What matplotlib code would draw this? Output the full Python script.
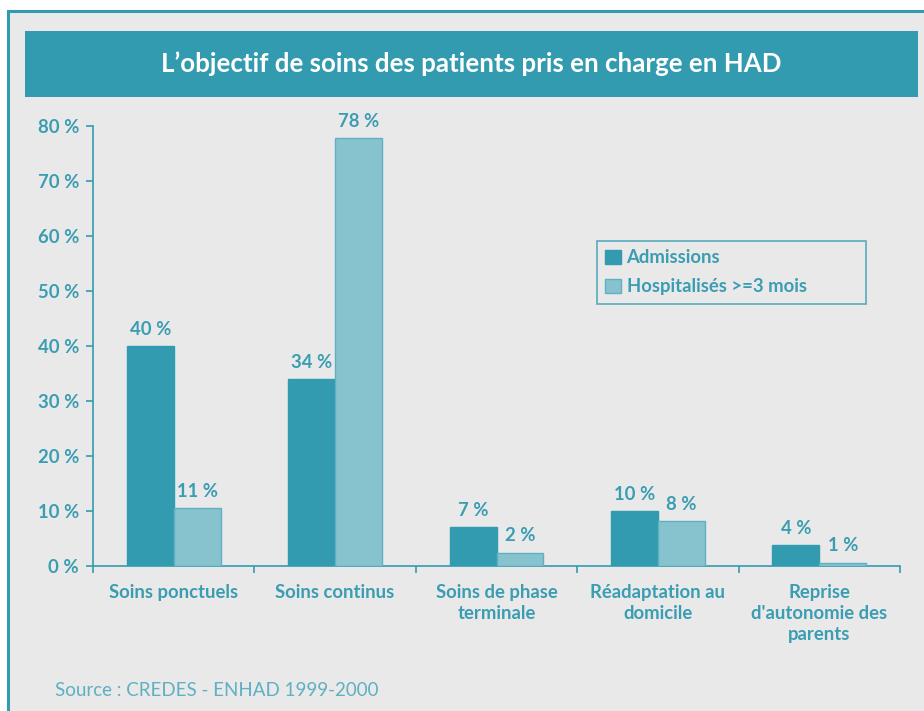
import matplotlib
matplotlib.use("Agg")
import matplotlib.pyplot as plt
from matplotlib.patches import Rectangle
import numpy as np

categories = ["Soins ponctuels", "Soins continus", "Soins de phase\nterminale",
              "Réadaptation au\ndomicile", "Reprise\nd'autonomie des\nparents"]
admissions = [40.0, 34.0, 7.1, 10.0, 3.8]
hospitalises = [10.5, 77.8, 2.4, 8.2, 0.6]
admissions_labels = ["40 %", "34 %", "7 %", "10 %", "4 %"]
hospitalises_labels = ["11 %", "78 %", "2 %", "8 %", "1 %"]
series_names = ["Admissions", "Hospitalisés >=3 mois"]
yticks = [0, 10, 20, 30, 40, 50, 60, 70, 80]
ytick_labels = [f"{v} %" for v in yticks]
title = "L’objectif de soins des patients pris en charge en HAD"
source = "Source : CREDES - ENHAD 1999-2000"

TEAL = "#339bb0"
LIGHT = "#86c3cf"
BG = "#e9e9e9"
TXT = "#3a9db2"
FONT = ["Lato", "DejaVu Sans"]
FS = 13.3

W, H = 924, 711
fig = plt.figure(figsize=(W / 100, H / 100), dpi=100)
fig.patch.set_facecolor("white")

# outer panel
fig.patches.append(Rectangle((8 / W, -0.1), 1.1, 1.1 - 11 / H, transform=fig.transFigure,
                             facecolor=BG, edgecolor=TEAL, linewidth=2.2, zorder=0))
# title band
fig.patches.append(Rectangle((25 / W, 1 - 97 / H), (918 - 25) / W, 66 / H,
                             transform=fig.transFigure, facecolor=TEAL,
                             edgecolor="none", zorder=1))
fig.text((25 + 918) / 2 / W, 1 - 64 / H, title, color="white", fontsize=18.6,
         fontweight="bold", ha="center", va="center", family=FONT)

ax = fig.add_axes([93 / W, 1 - 566 / H, (900 - 93) / W, (566 - 126) / H])
ax.set_zorder(3)
ax.set_facecolor("none")
x = np.arange(len(categories))
bw = 0.29
ax.bar(x - bw / 2, admissions, bw, color=TEAL, edgecolor=TEAL, linewidth=1,
       label=series_names[0], zorder=3)
ax.bar(x + bw / 2, hospitalises, bw, color=LIGHT, edgecolor="#5fb0c2",
       linewidth=1, label=series_names[1], zorder=3)

for xi, v, lab in zip(x - bw / 2, admissions, admissions_labels):
    ax.annotate(lab, (xi, v), xytext=(0, 6), textcoords="offset points",
                ha="center", va="bottom", color=TXT, fontsize=FS,
                fontweight="bold", family=FONT)
for xi, v, lab in zip(x + bw / 2, hospitalises, hospitalises_labels):
    ax.annotate(lab, (xi, v), xytext=(0, 6), textcoords="offset points",
                ha="center", va="bottom", color=TXT, fontsize=FS,
                fontweight="bold", family=FONT)

ax.set_xlim(-0.5, len(categories) - 0.5)
ax.set_ylim(0, 80)
ax.set_yticks(yticks)
ax.set_yticklabels(ytick_labels)
ax.set_xticks(x)
ax.set_xticklabels(categories, linespacing=1.3)
ax.set_xticks(np.arange(-0.5, len(categories)), minor=True)
ax.tick_params(axis="x", which="major", length=0, pad=13)
ax.tick_params(axis="x", which="minor", length=5, color=TEAL, width=1.2,
               direction="out")
ax.tick_params(axis="y", length=5, color=TEAL, width=1.2, direction="out", pad=5)
for lab in ax.get_xticklabels() + ax.get_yticklabels():
    lab.set_color(TXT)
    lab.set_fontsize(FS)
    lab.set_fontweight("bold")
    lab.set_family(FONT)
for s in ["top", "right"]:
    ax.spines[s].set_visible(False)
for s in ["left", "bottom"]:
    ax.spines[s].set_color(TEAL)
    ax.spines[s].set_linewidth(1.2)

lx0 = (597 - 93) / (900 - 93)
lw = (866 - 597) / (900 - 93)
ltop = (566 - 241) / 440
lh = 61 / 440
leg = ax.legend(loc="upper left", bbox_to_anchor=(lx0, ltop - lh, lw, lh),
                mode="expand",
                frameon=True, fancybox=False, facecolor=BG, edgecolor=TEAL,
                handlelength=0.85, handleheight=0.85, handletextpad=0.3,
                borderpad=0.45, labelspacing=0.65, borderaxespad=0,
                prop={"family": FONT, "weight": "bold", "size": FS})
leg.get_frame().set_linewidth(1.2)
for t in leg.get_texts():
    t.set_color(TXT)

fig.text(55 / W, 1 - 690 / H, source, color="#5fb0c2", fontsize=13.5,
         ha="left", va="center", family=FONT)

fig.savefig("out.png", dpi=100, facecolor=fig.get_facecolor())
